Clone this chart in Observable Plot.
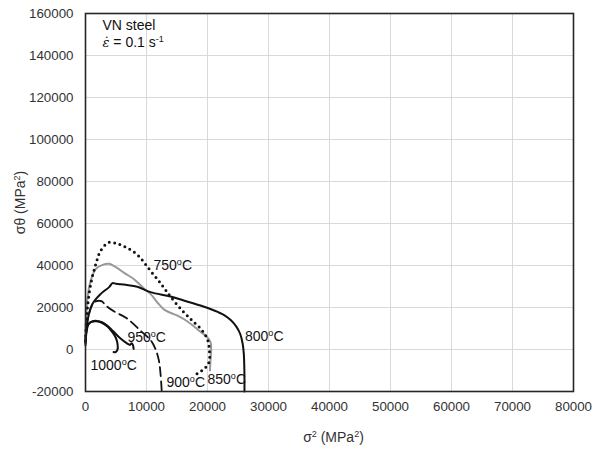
<!DOCTYPE html>
<html>
<head>
<meta charset="utf-8">
<script src="https://cdn.jsdelivr.net/npm/d3@7"></script>
<script src="https://cdn.jsdelivr.net/npm/@observablehq/plot@0.6"></script>
<style>
  html, body { margin: 0; padding: 0; background: #fff; }
  #chart { width: 592px; height: 450px; }
</style>
</head>
<body>
<div id="chart"></div>
<script>
// Tick values
const xTicks = [0, 10000, 20000, 30000, 40000, 50000, 60000, 70000, 80000];
const yTicks = [-20000, 0, 20000, 40000, 60000, 80000, 100000, 120000, 140000, 160000];

// Curves: [sigma^2 (MPa^2), sigma*theta (MPa^2)]
const c750 = [[0,4000],[60,9000],[330,20200],[870,31300],[1700,40800],[2500,47100],[3880,51100],[5250,50300],[6600,48700],[8470,45200],[10650,37500],[12570,30500],[13930,25200],[15850,18600],[17490,13800],[19130,9050],[20050,4300],[20330,-1300],[20300,-5500],[19900,-7800],[19300,-9600],[18600,-11000],[18100,-11900]];
const c800 = [[0,4000],[330,13800],[1150,21750],[2500,26500],[3880,29700],[4430,31600],[5000,31300],[6600,30800],[8500,29900],[10650,27300],[13930,25240],[16100,23330],[18850,20950],[21000,18700],[22600,16600],[23800,14000],[24700,11000],[25350,7500],[25750,3000],[25950,-2000],[26030,-8000],[26060,-14000],[26060,-20000]];
const c850 = [[0,6000],[100,14000],[330,24900],[870,32900],[1700,38400],[2800,40300],[3880,40800],[4970,39200],[6600,36000],[7900,33600],[9800,28500],[10650,26500],[11750,22500],[13100,18600],[15000,16200],[16900,13000],[18570,9050],[19950,5860],[20490,3480],[20600,-480],[20490,-5240],[20400,-10000]];
const c900 = [[0,4000],[330,13800],[1150,21500],[1800,23000],[2600,23000],[3400,20800],[4650,18200],[6700,15000],[9000,9000],[10650,4500],[11400,700],[12000,-4800],[12300,-11600],[12500,-20000]];
const c950 = [[0,2000],[150,8000],[500,12000],[1100,13400],[1900,13600],[2700,13000],[3600,11300],[4500,8800],[5700,5300],[6800,2900],[7300,2200],[7550,3000],[7750,2300],[7900,300]];
const c1000 = [[0,3000],[100,7500],[330,11400],[870,13000],[1700,13500],[2500,13000],[3600,11000],[4400,8300],[4970,5600],[5250,2700],[5250,-100],[4900,-1300],[4600,-1200]];

// Curve labels: text, x, y (data coords)
const labelText = ["750^o^C", "800^o^C", "850^o^C", "900^o^C", "950^o^C", "1000^o^C"];
const labelX = [11150, 26150, 20000, 13280, 6880, 820];
const labelY = [40000, 6200, -14500, -15700, 5700, -7600];
const labels = labelText.map((t, i) => ({t, x: labelX[i], y: labelY[i]}));

const toObj = a => a.map(([x, y]) => ({x, y}));

const font = "'Liberation Sans', Arial, sans-serif";

const plot = Plot.plot({
  width: 592,
  height: 450,
  marginLeft: 85,
  marginRight: 19,
  marginTop: 13,
  marginBottom: 59,
  style: {fontFamily: font, fontSize: "13.33px", color: "#333", background: "#fff"},
  x: {domain: [0, 80000]},
  y: {domain: [-20000, 160000]},
  marks: [
    Plot.gridX(xTicks, {stroke: "#d9d9d9", strokeOpacity: 1, strokeWidth: 1}),
    Plot.gridY(yTicks, {stroke: "#d9d9d9", strokeOpacity: 1, strokeWidth: 1}),
    Plot.axisX({ticks: xTicks, tickSize: 0, tickPadding: 10, tickFormat: d => String(d), label: null, fill: "#333"}),
    Plot.axisY({ticks: yTicks, tickSize: 0, tickPadding: 12, tickFormat: d => String(d), label: null, fill: "#333"}),
    Plot.line(toObj(c900), {x: "x", y: "y", stroke: "#111", strokeWidth: 1.8, strokeDasharray: "9,5", curve: "catmull-rom"}),
    Plot.line(toObj(c850), {x: "x", y: "y", stroke: "#999", strokeWidth: 2, curve: "catmull-rom"}),
    Plot.line(toObj(c800), {x: "x", y: "y", stroke: "#111", strokeWidth: 2, curve: "catmull-rom"}),
    Plot.line(toObj(c750), {x: "x", y: "y", stroke: "#111", strokeWidth: 3, strokeDasharray: "0,5.5", strokeLinecap: "round", curve: "catmull-rom"}),
    Plot.line(toObj(c950), {x: "x", y: "y", stroke: "#111", strokeWidth: 2, curve: "catmull-rom"}),
    Plot.line(toObj(c1000), {x: "x", y: "y", stroke: "#111", strokeWidth: 2, curve: "catmull-rom"}),
    Plot.text(labels, {x: "x", y: "y", text: "t", textAnchor: "start", lineAnchor: "middle", fontSize: 14, fill: "#111"}),
    Plot.text(["VN steel"], {frameAnchor: "top-left", dx: 17, dy: 12, textAnchor: "start", lineAnchor: "middle", fontSize: 14, fill: "#111"}),
    Plot.text(["ε̇ = 0.1 s^-1^"], {frameAnchor: "top-left", dx: 17, dy: 29, textAnchor: "start", lineAnchor: "middle", fontSize: 14, fill: "#111"}),
    Plot.text(["σ^2^ (MPa^2^)"], {frameAnchor: "bottom", dx: 4, dy: 46, textAnchor: "middle", lineAnchor: "middle", fontSize: 14, fill: "#333"}),
    Plot.text(["σθ (MPa^2^)"], {frameAnchor: "left", dx: -65, rotate: -90, textAnchor: "middle", lineAnchor: "middle", fontSize: 14, fill: "#333"}),
    Plot.frame({stroke: "#262626", strokeWidth: 1.6})
  ]
});

// Turn ^...^ segments into superscript tspans; style the strain-rate symbol
d3.select(plot).selectAll("text").each(function() {
  if (this.querySelector("tspan")) return;
  const s = this.textContent;
  if (!s.includes("^")) return;
  const parts = s.split("^");
  const el = d3.select(this);
  el.text(null);
  parts.forEach((p, i) => {
    if (!p) return;
    const sup = i % 2 === 1;
    if (!sup && p.startsWith("ε̇")) {
      el.append("tspan").text("ε̇")
        .attr("font-family", "'DejaVu Serif', serif")
        .attr("font-style", "italic")
        .attr("font-size", "13px");
      p = p.slice(2);
    }
    const ts = el.append("tspan").text(p);
    if (sup) ts.attr("font-size", "9px").attr("baseline-shift", "super");
  });
});

document.getElementById("chart").appendChild(plot);
</script>
</body>
</html>
